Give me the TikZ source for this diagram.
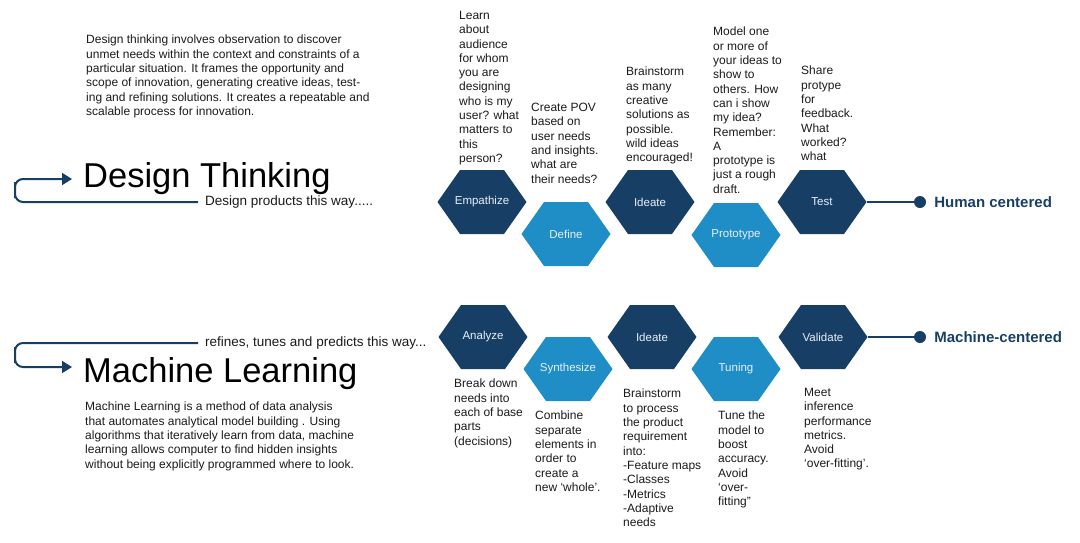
\documentclass[tikz,border=0pt]{standalone}
\usepackage{fontspec}
\setmainfont{Liberation Sans}
\usetikzlibrary{arrows.meta,positioning,calc}
\definecolor{navy}{HTML}{173F66}
\definecolor{sky}{HTML}{1F8DC6}
\definecolor{hexink}{HTML}{E8EFF6}
\definecolor{ink}{HTML}{1A1A1A}

\begin{document}
\begin{tikzpicture}[
  x=1pt,y=-1pt,
  hex/.style={minimum width=89pt,minimum height=64pt,inner sep=0pt,
              font=\fontsize{11.5}{13}\selectfont,text=hexink,
              path picture={\fill[#1] (path picture bounding box.west)
                -- ++(22.5pt,32pt) -- ++(44pt,0pt) -- ++(22.5pt,-32pt)
                -- ++(-22.5pt,-32pt) -- ++(-44pt,0pt) -- cycle;}},
  darkhex/.style={hex=navy},
  lighthex/.style={hex=sky},
  note/.style={font=\fontsize{12}{14.3}\selectfont,text=ink,align=left,
               inner sep=0pt,anchor=north west},
  title/.style={font=\fontsize{34.5}{40}\selectfont,text=black,inner sep=0pt,
                anchor=base west},
  way/.style={font=\fontsize{13.5}{16}\selectfont,text=ink,inner xsep=7pt,
              inner ysep=0pt,anchor=west},
  looparrow/.style={-{Triangle[length=10pt,width=12pt]},line width=2pt,
                    draw=navy,rounded corners=8pt},
  link/.style={line width=2pt,draw=navy},
  dot/.style={circle,fill=navy,minimum size=12pt,inner sep=0pt},
  goal/.style={font=\fontsize{15}{18}\selectfont\bfseries,text=navy,inner sep=0pt}
]
\useasboundingbox (0,0) rectangle (1080,542);

% Design thinking side
\node[note] (dtdesc) at (86,35)
  {Design thinking involves observation to discover\\
   unmet needs within the context and constraints of a\\
   particular situation. It frames the opportunity and\\
   scope of innovation, generating creative ideas, test-\\
   ing and refining solutions. It creates a repeatable and\\
   scalable process for innovation.};
\node[title] (dttitle) at (83,187) {Design Thinking};
\node[way] (dtway) at (198,202) {Design products this way.....};
\coordinate (dtturn) at (15,190);
\coordinate (dtin) at (72,179);

% Machine learning side
\node[way] (mlway) at (198,343) {refines, tunes and predicts this way...};
\node[title] (mltitle) at (83,382) {Machine Learning};
\node[note] (mldesc) at (85,402)
  {Machine Learning is a method of data analysis\\
   that automates analytical model building . Using\\
   algorithms that iteratively learn from data, machine\\
   learning allows computer to find hidden insights\\
   without being explicitly programmed where to look.};
\coordinate (mlturn) at (15,355);
\coordinate (mlin) at (72,367);

% Design thinking steps
\node[darkhex] (empathize) at (482,202) {Empathize};
\node[lighthex] (define) at (566,234) {Define};
\node[darkhex] (ideate) at (650,202) {Ideate};
\node[lighthex] (prototype) at (736,235) {Prototype};
\node[darkhex] (test) at (822,202) {Test};

\node[note] (empnote) at (459,11)
  {Learn\\ about\\ audience\\ for whom\\ you are\\ designing\\ who is my\\
   user? what\\ matters to\\ this\\ person?};
\node[note] (defnote) at (531,103)
  {Create POV\\ based on\\ user needs\\ and insights.\\ what are\\ their needs?};
\node[note] (ideanote) at (626,67)
  {Brainstorm\\ as many\\ creative\\ solutions as\\ possible.\\ wild ideas\\
   encouraged!};
\node[note] (protonote) at (713,27)
  {Model one\\ or more of\\ your ideas to\\ show to\\ others. How\\ can i show\\
   my idea?\\ Remember:\\ A\\ prototype is\\ just a rough\\ draft.};
\node[note] (testnote) at (801,66)
  {Share\\ protype\\ for\\ feedback.\\ What\\ worked?\\ what};

% Machine learning steps
\node[darkhex] (analyze) at (483,337) {Analyze};
\node[lighthex] (synthesize) at (568,369) {Synthesize};
\node[darkhex] (mlideate) at (652,337) {Ideate};
\node[lighthex] (tuning) at (736,369) {Tuning};
\node[darkhex] (validate) at (823,337) {Validate};

\node[note] (anote) at (454,379)
  {Break down\\ needs into\\ each of base\\ parts\\ (decisions)};
\node[note] (snote) at (535,411)
  {Combine\\ separate\\ elements in\\ order to\\ create a\\ new ‘whole’.};
\node[note] (inote) at (623,389)
  {Brainstorm\\ to process\\ the product\\ requirement\\ into:\\ -Feature maps\\
   -Classes\\ -Metrics\\ -Adaptive\\ needs};
\node[note] (tnote) at (718,411)
  {Tune the\\ model to\\ boost\\ accuracy.\\ Avoid\\ ‘over-\\ fitting”};
\node[note] (vnote) at (804,388)
  {Meet\\ inference\\ performance\\ metrics.\\ Avoid\\ ‘over-fitting’.};

% Outcomes
\node[dot] (hcdot) at (920,202) {};
\node[goal,right=8pt of hcdot] (human) {Human centered};
\node[dot] (mcdot) at (920,337) {};
\node[goal,right=8pt of mcdot] (machine) {Machine-centered};

% Arrows
\draw[looparrow] (dtway.west) -| (dtturn) |- (dtin);
\draw[looparrow] (mlway.west) -| (mlturn) |- (mlin);
\draw[link] (test.east) -- (hcdot);
\draw[link] (validate.east) -- (mcdot);

\end{tikzpicture}
\end{document}
